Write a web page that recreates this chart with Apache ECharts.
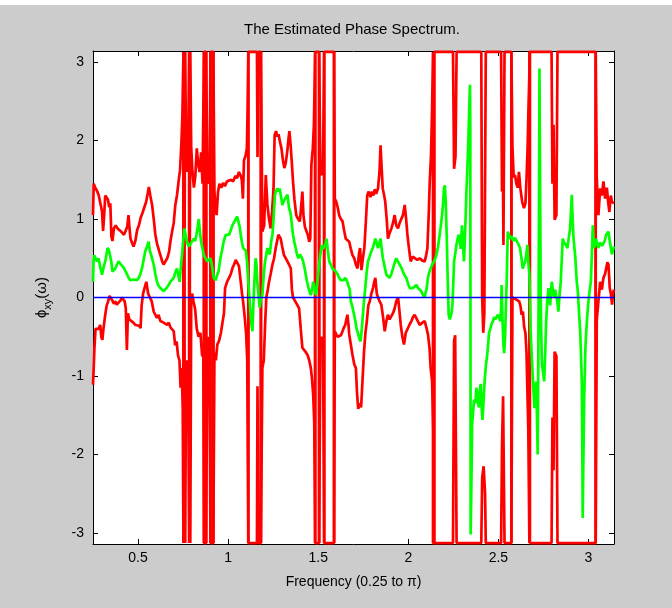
<!DOCTYPE html>
<html><head><meta charset="utf-8">
<script src="https://cdn.jsdelivr.net/npm/echarts@6/dist/echarts.min.js"></script>
<style>html,body{margin:0;padding:0;background:#fff}#c{width:672px;height:608px}</style>
</head><body><div id="c"></div>
<script>
// Tick values
var xTicks = [0.5, 1, 1.5, 2, 2.5, 3];
var yTicks = [-3, -2, -1, 0, 1, 2, 3];

// Upper confidence bound (wrapped phase), [frequency, phase]
var upperBound = [
[0.250,1.05],[0.254,1.45],[0.262,1.40],[0.272,1.36],[0.282,1.30],[0.292,1.28],[0.300,1.10],[0.306,0.85],[0.312,1.05],[0.318,1.30],[0.325,1.32],[0.333,1.25],[0.340,1.15],[0.346,1.20],[0.352,0.78],[0.358,0.72],[0.366,0.88],[0.376,0.92],[0.386,0.88],[0.396,0.90],[0.406,0.84],[0.414,0.86],[0.422,0.80],[0.432,0.82],[0.440,0.90],[0.447,1.05],[0.452,0.90],[0.458,0.75],[0.466,0.70],[0.475,0.65],[0.485,0.72],[0.495,0.86],[0.505,0.92],[0.515,1.02],[0.525,1.08],[0.535,1.15],[0.545,1.22],[0.553,1.32],[0.560,1.41],[0.568,1.30],[0.578,1.18],[0.588,0.98],[0.596,0.80],[0.606,0.68],[0.616,0.60],[0.624,0.54],[0.634,0.46],[0.642,0.42],[0.652,0.46],[0.662,0.50],[0.672,0.58],[0.680,0.72],[0.689,0.84],[0.698,0.95],[0.707,1.18],[0.716,1.30],[0.725,1.48],[0.733,1.62],[0.740,1.94],[0.746,2.30],
[0.752,3.13],[0.752,-3.13],[0.762,-3.13],[0.762,3.13],[0.766,1.95],[0.772,1.60],[0.778,1.85],[0.784,3.13],[0.784,-3.13],[0.790,-3.13],[0.790,3.13],[0.795,1.92],[0.802,1.60],[0.810,1.40],[0.818,1.55],[0.826,1.90],[0.834,1.70],[0.842,1.60],[0.850,1.85],[0.858,1.45],[0.866,3.13],[0.866,-3.13],[0.878,-3.13],[0.878,3.13],[0.884,1.60],[0.892,1.45],[0.898,1.70],[0.902,3.13],[0.902,-3.13],[0.918,-3.13],[0.918,3.13],[0.924,1.35],[0.930,1.15],[0.936,1.05],[0.944,1.35],[0.952,1.45],[0.962,1.40],[0.972,1.46],[0.982,1.42],[0.994,1.48],[1.005,1.46],[1.016,1.50],[1.028,1.48],[1.040,1.55],[1.050,1.52],[1.060,1.60],[1.070,1.55],[1.076,1.50],[1.082,1.26],[1.088,1.75],[1.096,1.80],[1.104,1.90],[1.108,2.40],
[1.112,3.13],[1.112,-3.13],[1.160,-3.13],[1.163,-1.13],[1.168,-3.13],[1.182,-3.13],[1.182,3.13],[1.190,0.84],[1.200,0.92],[1.209,1.56],[1.218,1.18],[1.227,1.00],[1.236,0.88],[1.244,1.10],[1.252,1.39],[1.258,2.07],[1.266,2.12],[1.273,2.05],[1.280,2.08],[1.288,1.98],[1.296,1.90],[1.304,1.75],[1.312,1.65],[1.320,1.72],[1.328,1.86],[1.334,2.00],[1.340,2.12],[1.347,1.94],[1.354,1.70],[1.360,1.48],[1.368,1.25],[1.378,1.05],[1.388,1.00],[1.398,0.97],[1.405,1.15],[1.412,1.35],[1.418,1.05],[1.426,0.90],[1.434,0.85],[1.442,0.80],[1.450,0.71],[1.456,0.75],[1.462,1.69],[1.470,1.90],[1.476,2.20],
[1.483,3.13],[1.483,-3.13],[1.505,-3.13],[1.505,3.13],[1.512,1.60],[1.520,1.56],[1.527,1.75],[1.533,3.13],[1.533,-3.13],[1.588,-3.13],[1.588,3.13],[1.592,1.26],[1.600,1.22],[1.608,1.15],[1.616,1.05],[1.626,1.00],[1.635,0.97],[1.644,0.85],[1.653,0.75],[1.662,0.74],[1.672,0.71],[1.681,0.62],[1.690,0.54],[1.700,0.50],[1.709,0.42],[1.718,0.37],[1.726,0.55],[1.732,0.63],[1.740,0.35],[1.748,0.50],[1.756,0.63],[1.764,0.95],[1.772,1.30],[1.780,1.35],[1.790,1.28],[1.798,1.35],[1.806,1.30],[1.814,1.38],[1.822,1.32],[1.832,1.39],[1.840,1.60],[1.846,1.94],[1.852,1.65],[1.858,1.39],[1.866,1.30],[1.872,1.22],[1.880,1.00],[1.887,0.75],[1.896,0.82],[1.906,0.88],[1.915,0.95],[1.924,1.05],[1.933,0.92],[1.943,0.88],[1.952,0.95],[1.961,0.97],[1.970,1.05],[1.980,1.18],[1.988,1.00],[1.995,0.80],[2.004,0.62],[2.013,0.46],[2.024,0.52],[2.035,0.50],[2.050,0.48],[2.063,0.50],[2.078,0.47],[2.091,0.46],[2.100,0.55],[2.106,0.63],[2.114,1.10],[2.119,1.48],[2.126,1.81],[2.132,2.40],
[2.137,3.13],[2.137,-3.13],[2.248,-3.13],[2.254,-0.55],[2.260,-0.48],[2.268,-3.13],[2.405,-3.13],[2.410,-2.30],[2.418,-2.15],[2.426,-2.50],[2.430,-3.13],[2.515,-3.13],[2.520,-1.90],[2.526,-1.26],[2.534,-3.13],[2.572,-3.13],[2.572,3.13],[2.578,1.92],[2.585,1.53],[2.592,1.56],[2.600,1.45],[2.607,1.40],[2.614,1.60],[2.622,1.39],[2.632,1.22],[2.642,1.14],[2.650,1.20],[2.656,1.50],[2.662,1.90],[2.666,2.32],
[2.675,3.13],[2.675,-3.13],[2.795,-3.13],[2.800,-1.53],[2.806,-2.20],[2.812,-0.69],[2.822,-0.75],[2.828,-3.13],[3.040,-3.13],[3.040,3.13],[3.046,1.52],[3.055,1.05],[3.065,1.39],[3.074,1.30],[3.083,1.48],[3.092,1.26],[3.102,1.40],[3.110,1.20],[3.116,1.09],[3.124,1.30],[3.130,1.22],[3.141,1.20]
];

// Lower confidence bound (wrapped phase), [frequency, phase]
var lowerBound = [
[0.250,-1.11],[0.254,-0.90],[0.258,-0.64],[0.264,-0.40],[0.272,-0.38],[0.281,-0.40],[0.290,-0.35],[0.296,-0.50],[0.302,-0.54],[0.308,-0.40],[0.318,-0.22],[0.326,-0.10],[0.334,-0.05],[0.342,0.02],[0.350,0.00],[0.358,-0.04],[0.366,-0.08],[0.374,-0.05],[0.382,-0.09],[0.392,-0.08],[0.402,-0.04],[0.410,0.00],[0.418,0.01],[0.426,-0.05],[0.432,-0.14],[0.438,-0.67],[0.444,-0.20],[0.452,-0.28],[0.462,-0.30],[0.474,-0.32],[0.486,-0.35],[0.496,-0.33],[0.506,-0.36],[0.514,-0.39],[0.520,-0.10],[0.528,0.05],[0.536,0.12],[0.546,0.20],[0.556,0.05],[0.566,0.00],[0.576,-0.05],[0.587,-0.18],[0.596,-0.22],[0.605,-0.26],[0.614,-0.22],[0.624,-0.30],[0.634,-0.28],[0.642,-0.32],[0.652,-0.33],[0.661,-0.35],[0.670,-0.32],[0.680,-0.38],[0.690,-0.40],[0.698,-0.43],[0.706,-0.61],[0.714,-0.56],[0.722,-0.74],[0.730,-0.80],[0.736,-1.15],[0.742,-0.90],[0.748,-1.40],
[0.752,-3.13],[0.752,3.13],[0.762,3.13],[0.762,-3.13],[0.766,-1.00],[0.772,-0.80],[0.778,-1.05],[0.784,-3.13],[0.784,3.13],[0.790,3.13],[0.790,-3.13],[0.795,-0.10],[0.800,0.05],[0.808,-0.05],[0.817,-0.15],[0.826,-0.40],[0.836,-0.50],[0.846,-0.45],[0.856,-0.75],[0.862,-0.60],[0.866,-3.13],[0.866,3.13],[0.878,3.13],[0.878,-3.13],[0.884,-0.80],[0.890,-0.50],[0.896,-0.70],[0.902,-3.13],[0.902,3.13],[0.918,3.13],[0.918,-3.13],[0.924,-0.70],[0.932,-0.80],[0.940,-0.60],[0.950,-0.55],[0.960,-0.45],[0.970,-0.30],[0.977,-0.20],[0.983,0.12],[0.994,0.20],[1.005,0.25],[1.015,0.30],[1.025,0.38],[1.033,0.42],[1.042,0.48],[1.051,0.50],[1.060,0.40],[1.070,0.20],[1.077,0.05],[1.083,-0.05],[1.092,-0.25],[1.100,-0.47],[1.106,-0.80],
[1.112,-3.13],[1.112,3.13],[1.160,3.13],[1.163,1.79],[1.168,3.13],[1.182,3.13],[1.182,-3.13],[1.190,-0.90],[1.198,-0.80],[1.206,-0.30],[1.212,0.00],[1.220,0.10],[1.227,0.20],[1.236,0.30],[1.246,0.42],[1.255,0.50],[1.264,0.63],[1.272,0.72],[1.279,0.80],[1.286,0.78],[1.292,0.75],[1.300,0.65],[1.310,0.54],[1.320,0.50],[1.329,0.46],[1.338,0.42],[1.348,0.37],[1.354,0.10],[1.360,0.00],[1.368,-0.03],[1.375,-0.05],[1.385,-0.10],[1.394,-0.14],[1.403,-0.40],[1.412,-0.64],[1.422,-0.66],[1.432,-0.70],[1.440,-0.73],[1.450,-0.80],[1.459,-0.90],[1.466,-1.05],[1.472,-1.24],[1.478,-1.60],
[1.483,-3.13],[1.483,3.13],[1.505,3.13],[1.505,-3.13],[1.512,-0.60],[1.520,-0.50],[1.527,-0.65],[1.533,-3.13],[1.533,3.13],[1.588,3.13],[1.588,-3.13],[1.592,-0.43],[1.600,-0.47],[1.608,-0.50],[1.616,-0.52],[1.626,-0.48],[1.635,-0.43],[1.643,-0.38],[1.650,-0.35],[1.656,-0.28],[1.662,-0.22],[1.668,-0.35],[1.672,-0.47],[1.681,-0.60],[1.690,-0.73],[1.700,-0.85],[1.709,-0.90],[1.716,-1.24],[1.722,-1.42],[1.730,-1.35],[1.738,-1.40],[1.746,-1.05],[1.754,-0.70],[1.762,-0.45],[1.770,-0.30],[1.778,-0.10],[1.786,-0.05],[1.795,0.05],[1.804,0.12],[1.811,0.20],[1.817,0.25],[1.825,0.05],[1.832,0.00],[1.841,-0.05],[1.850,-0.09],[1.860,-0.25],[1.869,-0.43],[1.878,-0.30],[1.887,-0.22],[1.896,-0.28],[1.906,-0.30],[1.915,-0.20],[1.924,-0.14],[1.933,-0.05],[1.943,0.00],[1.950,-0.15],[1.958,-0.35],[1.967,-0.50],[1.976,-0.60],[1.986,-0.45],[1.995,-0.43],[2.006,-0.35],[2.017,-0.30],[2.026,-0.25],[2.035,-0.22],[2.048,-0.28],[2.063,-0.35],[2.078,-0.32],[2.091,-0.30],[2.100,-0.38],[2.109,-0.47],[2.118,-0.65],[2.124,-0.90],[2.132,-1.07],[2.140,-1.80],
[2.145,-3.13],[2.145,3.13],[2.248,3.13],[2.254,1.64],[2.262,1.80],[2.268,3.13],[2.405,3.13],[2.410,0.00],[2.416,-0.45],[2.422,-0.20],[2.430,3.13],[2.515,3.13],[2.520,1.35],[2.524,2.00],[2.528,0.67],[2.534,3.13],[2.572,3.13],[2.572,-3.13],[2.578,0.00],[2.585,0.02],[2.595,-0.02],[2.605,0.00],[2.615,-0.05],[2.622,-0.10],[2.629,-0.22],[2.636,-0.18],[2.643,-0.38],[2.650,-0.45],[2.656,-0.70],[2.661,-1.20],[2.666,-1.68],
[2.672,-3.13],[2.672,3.13],[2.795,3.13],[2.800,1.45],[2.806,2.20],[2.812,0.99],[2.822,1.05],[2.828,3.13],[3.040,3.13],[3.040,-3.13],[3.046,-0.29],[3.055,-0.05],[3.065,0.20],[3.074,0.10],[3.083,0.25],[3.092,0.30],[3.098,0.37],[3.105,0.45],[3.111,0.42],[3.118,0.12],[3.124,0.05],[3.131,-0.09],[3.136,0.05],[3.141,0.10]
];

// Estimated phase spectrum, [frequency, phase]
var estimate = [
[0.250,0.20],[0.253,0.45],[0.257,0.54],[0.264,0.50],[0.272,0.46],[0.280,0.50],[0.287,0.48],[0.294,0.35],[0.300,0.29],[0.308,0.38],[0.318,0.46],[0.325,0.55],[0.331,0.63],[0.339,0.60],[0.346,0.59],[0.352,0.45],[0.358,0.33],[0.366,0.35],[0.374,0.37],[0.383,0.42],[0.392,0.46],[0.402,0.43],[0.411,0.42],[0.420,0.38],[0.429,0.37],[0.438,0.30],[0.448,0.25],[0.457,0.22],[0.466,0.20],[0.476,0.23],[0.485,0.25],[0.494,0.22],[0.504,0.25],[0.513,0.30],[0.522,0.37],[0.531,0.48],[0.540,0.59],[0.550,0.65],[0.559,0.71],[0.565,0.60],[0.572,0.55],[0.580,0.48],[0.587,0.42],[0.596,0.30],[0.605,0.20],[0.614,0.15],[0.624,0.12],[0.633,0.10],[0.642,0.08],[0.652,0.10],[0.661,0.13],[0.670,0.16],[0.679,0.20],[0.689,0.22],[0.698,0.25],[0.707,0.32],[0.716,0.37],[0.724,0.28],[0.731,0.20],[0.738,0.40],[0.744,0.54],[0.750,0.70],[0.757,0.88],[0.764,0.80],[0.772,0.71],[0.781,0.65],[0.791,0.68],[0.800,0.70],[0.809,0.75],[0.817,0.72],[0.824,0.80],[0.831,0.90],[0.837,1.00],[0.843,0.85],[0.850,0.71],[0.858,0.62],[0.865,0.54],[0.874,0.50],[0.883,0.46],[0.892,0.48],[0.902,0.50],[0.911,0.40],[0.920,0.25],[0.930,0.22],[0.939,0.20],[0.948,0.35],[0.957,0.50],[0.966,0.60],[0.976,0.72],[0.987,0.80],[0.996,0.82],[1.005,0.80],[1.015,0.86],[1.024,0.92],[1.033,0.96],[1.042,1.00],[1.050,1.03],[1.057,0.97],[1.064,0.90],[1.070,0.80],[1.077,0.70],[1.083,0.63],[1.090,0.62],[1.098,0.60],[1.105,0.45],[1.112,0.20],[1.118,0.00],[1.125,-0.22],[1.130,-0.35],[1.135,-0.43],[1.140,-0.10],[1.144,0.12],[1.149,0.35],[1.153,0.50],[1.158,0.40],[1.162,0.20],[1.168,0.05],[1.175,-0.13],[1.182,0.00],[1.190,0.03],[1.198,0.30],[1.205,0.46],[1.212,0.55],[1.218,0.63],[1.225,0.58],[1.231,0.55],[1.238,0.70],[1.246,0.80],[1.252,1.00],[1.260,1.31],[1.266,1.36],[1.273,1.39],[1.280,1.35],[1.286,1.39],[1.294,1.28],[1.301,1.18],[1.308,1.22],[1.316,1.26],[1.322,1.28],[1.329,1.31],[1.334,1.22],[1.338,1.14],[1.344,1.10],[1.348,1.05],[1.354,0.92],[1.360,0.80],[1.368,0.70],[1.375,0.63],[1.382,0.55],[1.390,0.50],[1.398,0.55],[1.405,0.54],[1.411,0.50],[1.416,0.46],[1.424,0.38],[1.431,0.29],[1.438,0.20],[1.446,0.12],[1.452,0.08],[1.459,0.03],[1.466,0.10],[1.472,0.20],[1.480,0.12],[1.487,0.03],[1.494,0.15],[1.500,0.30],[1.505,0.42],[1.512,0.55],[1.520,0.67],[1.527,0.62],[1.533,0.60],[1.540,0.68],[1.546,0.75],[1.553,0.60],[1.561,0.46],[1.570,0.42],[1.579,0.37],[1.588,0.35],[1.598,0.33],[1.607,0.30],[1.616,0.25],[1.626,0.22],[1.635,0.20],[1.642,0.22],[1.649,0.25],[1.658,0.22],[1.668,0.20],[1.675,0.10],[1.681,-0.05],[1.690,-0.12],[1.699,-0.22],[1.706,-0.30],[1.713,-0.40],[1.720,-0.45],[1.728,-0.52],[1.735,-0.56],[1.742,-0.40],[1.748,-0.22],[1.754,-0.05],[1.761,0.12],[1.768,0.30],[1.776,0.46],[1.785,0.52],[1.795,0.59],[1.806,0.65],[1.817,0.75],[1.824,0.70],[1.832,0.63],[1.840,0.70],[1.846,0.75],[1.852,0.62],[1.859,0.50],[1.868,0.40],[1.878,0.29],[1.887,0.27],[1.896,0.25],[1.906,0.30],[1.915,0.37],[1.924,0.44],[1.933,0.50],[1.942,0.46],[1.952,0.42],[1.961,0.38],[1.970,0.33],[1.980,0.28],[1.989,0.25],[1.998,0.18],[2.008,0.12],[2.017,0.10],[2.026,0.12],[2.035,0.14],[2.045,0.16],[2.054,0.12],[2.063,0.12],[2.072,0.08],[2.082,0.03],[2.090,0.00],[2.095,0.00],[2.102,0.12],[2.109,0.25],[2.116,0.32],[2.124,0.37],[2.133,0.42],[2.143,0.46],[2.150,0.50],[2.156,0.54],[2.165,0.65],[2.174,0.80],[2.181,0.92],[2.187,1.05],[2.193,1.20],[2.198,1.39],[2.203,1.43],[2.208,1.20],[2.213,0.80],[2.218,0.30],[2.224,-0.22],[2.230,-0.28],[2.235,-0.30],[2.240,-0.20],[2.245,-0.09],[2.250,0.20],[2.254,0.46],[2.260,0.55],[2.267,0.67],[2.274,0.75],[2.280,0.80],[2.286,0.70],[2.291,0.62],[2.295,0.80],[2.298,0.92],[2.303,0.70],[2.309,0.46],[2.315,0.80],[2.322,1.31],[2.327,1.60],[2.332,1.90],[2.337,2.30],[2.342,2.71],[2.344,2.20],[2.346,-3.02],[2.350,-2.40],[2.354,-1.62],[2.360,-1.45],[2.365,-1.30],[2.372,-1.35],[2.378,-1.15],[2.384,-1.25],[2.391,-1.40],[2.396,-1.20],[2.402,-1.10],[2.408,-1.45],[2.412,-1.56],[2.418,-1.30],[2.424,-1.05],[2.430,-0.88],[2.437,-0.75],[2.443,-0.60],[2.448,-0.45],[2.455,-0.40],[2.463,-0.33],[2.470,-0.30],[2.476,-0.25],[2.483,-0.28],[2.490,-0.25],[2.497,-0.22],[2.504,-0.20],[2.510,-0.30],[2.515,-0.15],[2.518,0.16],[2.523,-0.30],[2.528,-0.60],[2.532,-0.71],[2.537,-0.50],[2.542,-0.10],[2.546,0.20],[2.552,0.84],[2.558,0.80],[2.565,0.75],[2.574,0.78],[2.583,0.72],[2.592,0.76],[2.602,0.74],[2.611,0.68],[2.620,0.63],[2.628,0.50],[2.635,0.37],[2.642,0.42],[2.648,0.45],[2.655,0.55],[2.661,0.67],[2.666,0.45],[2.672,0.29],[2.676,-0.10],[2.679,-0.43],[2.684,-0.70],[2.690,-0.98],[2.695,-1.20],[2.700,-1.41],[2.705,-1.25],[2.709,-1.07],[2.714,-1.50],[2.718,-2.00],[2.722,-0.60],[2.726,1.50],[2.728,2.92],[2.731,1.60],[2.735,0.00],[2.738,-0.50],[2.742,-0.86],[2.748,-0.95],[2.754,-1.07],[2.760,-0.70],[2.765,-0.31],[2.771,-0.05],[2.778,0.12],[2.783,0.00],[2.787,-0.10],[2.792,0.05],[2.796,0.20],[2.802,0.10],[2.809,0.00],[2.815,0.10],[2.820,0.03],[2.827,-0.05],[2.833,-0.18],[2.840,0.05],[2.846,0.20],[2.852,0.50],[2.857,0.75],[2.864,0.70],[2.870,0.71],[2.877,0.66],[2.883,0.63],[2.890,0.75],[2.898,0.88],[2.903,1.10],[2.907,1.31],[2.912,1.00],[2.916,0.80],[2.921,0.65],[2.926,0.54],[2.931,0.35],[2.935,0.20],[2.940,0.10],[2.944,-0.05],[2.949,-0.25],[2.954,-0.43],[2.958,-0.70],[2.963,-1.07],[2.966,-2.00],[2.968,-2.81],[2.971,-2.20],[2.976,-1.28],[2.980,-0.95],[2.983,-0.64],[2.987,-0.45],[2.991,-0.31],[2.996,-0.15],[3.000,-0.05],[3.006,0.08],[3.013,0.20],[3.018,0.50],[3.024,0.92],[3.028,0.75],[3.031,0.63],[3.036,0.70],[3.042,0.75],[3.048,0.68],[3.055,0.63],[3.062,0.70],[3.068,0.72],[3.075,0.66],[3.083,0.67],[3.090,0.72],[3.098,0.80],[3.105,0.82],[3.111,0.84],[3.118,0.72],[3.124,0.63],[3.130,0.55],[3.135,0.54],[3.141,0.65]
];

// Zero reference line
var zeroLine = [[0.25, 0], [3.1416, 0]];

var FONT = 'Liberation Sans, Arial, Helvetica, sans-serif';
var chart = echarts.init(document.getElementById('c'), null, {renderer: 'canvas'});

function xAx(pos, showLabel) {
  return {
    type: 'value', position: pos, min: 0.25, max: Math.PI,
    axisLine: {show: true, onZero: false, lineStyle: {color: '#000', width: 1}},
    axisTick: {show: true, inside: true, length: 5, customValues: xTicks, lineStyle: {color: '#000'}},
    axisLabel: {show: showLabel, customValues: xTicks, color: '#000', fontSize: 14, margin: 7, fontFamily: FONT},
    splitLine: {show: false},
    name: showLabel ? 'Frequency (0.25 to π)' : '',
    nameLocation: 'middle', nameGap: 31,
    nameTextStyle: {color: '#000', fontSize: 14, fontFamily: FONT}
  };
}
function yAx(pos, showLabel) {
  return {
    type: 'value', position: pos, min: -Math.PI, max: Math.PI,
    axisLine: {show: true, onZero: false, lineStyle: {color: '#000', width: 1}},
    axisTick: {show: true, inside: true, length: 5, customValues: yTicks, lineStyle: {color: '#000'}},
    axisLabel: {show: showLabel, customValues: yTicks, color: '#000', fontSize: 14, margin: 9, fontFamily: FONT},
    splitLine: {show: false},
    name: showLabel ? '{a|ϕ}{s|xy}{a|(ω)}' : '',
    nameLocation: 'middle', nameGap: 40, nameRotate: 90,
    nameTextStyle: {
      color: '#000', fontFamily: FONT,
      rich: {
        a: {fontSize: 15, fontFamily: FONT, color: '#000', lineHeight: 22, verticalAlign: 'middle'},
        s: {fontSize: 11, fontFamily: FONT, color: '#000', lineHeight: 22, verticalAlign: 'bottom'}
      }
    }
  };
}

function lineSeries(name, data, color, width) {
  return {
    type: 'line', name: name, data: data, showSymbol: false, symbol: 'none',
    xAxisIndex: 0, yAxisIndex: 0, clip: true, animation: false,
    lineStyle: {color: color, width: width, join: 'bevel', cap: 'butt'}
  };
}

chart.setOption({
  backgroundColor: '#cccccc',
  animation: false,
  grid: {left: 93, right: 58, top: 51, bottom: 64, show: true, backgroundColor: '#ffffff', borderWidth: 0, containLabel: false},
  xAxis: [xAx('bottom', true), xAx('top', false)],
  yAxis: [yAx('left', true), yAx('right', false)],
  graphic: [
    {type: 'rect', left: 0, top: 0, shape: {width: 672, height: 5}, style: {fill: '#ffffff'}, silent: true},
    {type: 'text', x: 352, y: 30, style: {text: 'The Estimated Phase Spectrum.', align: 'center', verticalAlign: 'middle', fontSize: 15, fontFamily: FONT, fill: '#000'}}
  ],
  series: [
    lineSeries('upper', upperBound, '#ff0000', 2.7),
    lineSeries('lower', lowerBound, '#ff0000', 2.7),
    lineSeries('estimate', estimate, '#00ff00', 2.7),
    lineSeries('zero', zeroLine, '#0000ff', 1.6)
  ]
});
</script></body></html>
